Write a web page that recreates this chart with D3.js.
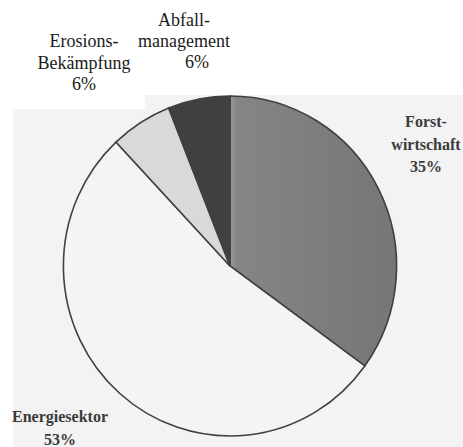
<!DOCTYPE html>
<html>
<head>
<meta charset="utf-8">
<script src="https://cdn.jsdelivr.net/npm/d3@7/dist/d3.min.js"></script>
<style>
  html, body { margin: 0; padding: 0; background: #ffffff; }
  svg { display: block; }
  .lbl { font-family: "Liberation Serif", "Times New Roman", Times, serif; }
</style>
</head>
<body>
<div id="chart"></div>
<script>
// Anteile der Sektoren (im Uhrzeigersinn ab 12 Uhr)
const sectors = ["Forstwirtschaft", "Energiesektor", "Erosions-Bekämpfung", "Abfallmanagement"];
const shares = [35, 53, 6, 6];
const fills = ["url(#forstGrad)", "#f4f4f4", "#d9d9d9", "#404040"];

// Beschriftungen (Zeilen pro Sektor)
const labelLines = [
  ["Forst-", "wirtschaft", "35%"],
  ["Energiesektor", "53%"],
  ["Erosions-", "Bekämpfung", "6%"],
  ["Abfall-", "management", "6%"]
];

(function () {
  const width = 463;
  const height = 447;

  const svg = d3.select("#chart")
    .append("svg")
    .attr("width", width)
    .attr("height", height)
    .attr("viewBox", `0 0 ${width} ${height}`);

  // leichter Verlauf wie im Scan (helle Kante links)
  const grad = svg.append("defs").append("linearGradient")
    .attr("id", "forstGrad")
    .attr("x1", "0").attr("x2", "1").attr("y1", "0").attr("y2", "0");
  grad.append("stop").attr("offset", "0").attr("stop-color", "#9a9a9a");
  grad.append("stop").attr("offset", "0.04").attr("stop-color", "#858585");
  grad.append("stop").attr("offset", "1").attr("stop-color", "#767676");

  // gescannter Hintergrund
  svg.append("path")
    .attr("d", "M13,109 L145,109 L145,95 L463,95 L463,447 L13,447 Z")
    .attr("fill", "#f3f3f3");

  const cx = 230, cy = 266, r = 170;

  const pie = d3.pie().sort(null).value((d) => d);
  const arc = d3.arc().innerRadius(0).outerRadius(r);

  const g = svg.append("g")
    .attr("transform", `translate(${cx},${cy}) scale(0.98,1)`);

  g.selectAll("path")
    .data(pie(shares))
    .join("path")
    .attr("d", arc)
    .attr("fill", (d, i) => fills[i])
    .attr("stroke", "#404040")
    .attr("stroke-width", 1.6)
    .attr("vector-effect", "non-scaling-stroke");

  // Labels
  const labelPos = [
    { x: 426, y: 127, dy: 22.5, size: 16, weight: "bold", color: "#3a3a3a" },
    { x: 60, y: 422, dy: 23, size: 16, weight: "bold", color: "#3a3a3a" },
    { x: 84, y: 47, dy: 21.5, size: 18, weight: "normal", color: "#1a1a1a" },
    { x: 184, y: 26, dy: 21, size: 18, weight: "normal", color: "#1a1a1a" }
  ];

  labelLines.forEach((lines, i) => {
    const p = labelPos[i];
    const t = svg.append("text")
      .attr("class", "lbl")
      .attr("font-size", p.size)
      .attr("font-weight", p.weight)
      .attr("fill", p.color)
      .attr("text-anchor", "middle");
    lines.forEach((line, j) => {
      let x = p.x;
      if (i === 3 && j === 2) x = p.x + 13;
      t.append("tspan")
        .attr("x", x)
        .attr("y", p.y + j * p.dy)
        .text(line);
    });
  });
})();
</script>
</body>
</html>
